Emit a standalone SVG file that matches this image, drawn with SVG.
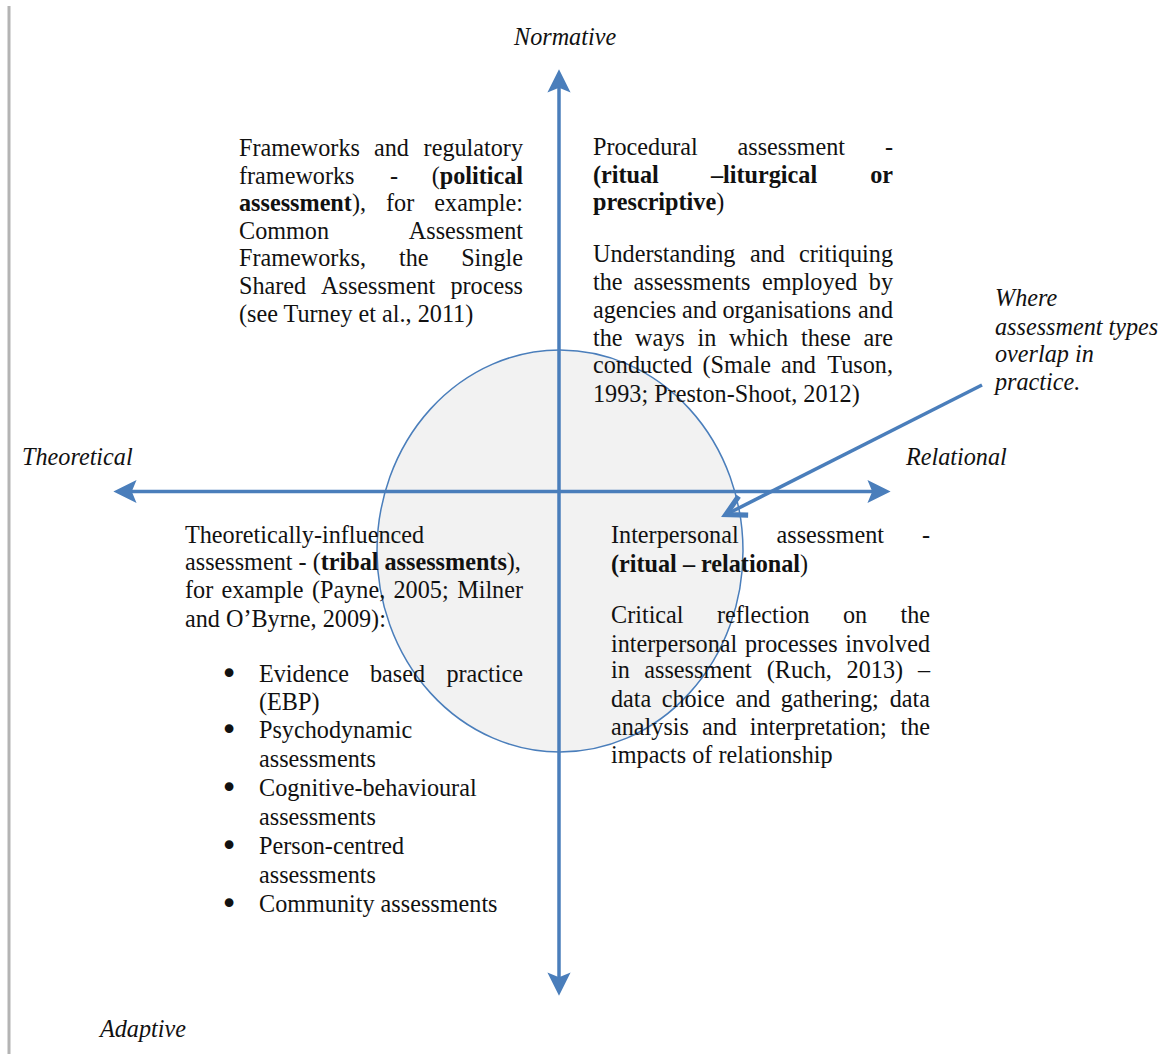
<svg xmlns="http://www.w3.org/2000/svg" width="1163" height="1054" viewBox="0 0 1163 1054">
<defs>
<style>
text{font-family:"Liberation Serif","Times New Roman",serif;font-size:24.2px;fill:#111}
.b{font-weight:bold}
.lab{font-style:italic}
.e{text-anchor:end}
.bul{font-family:"DejaVu Sans",sans-serif;font-size:30px;text-anchor:middle}
.axis{stroke:#4a7ebb;stroke-width:3.5;fill:none}
</style>
<marker id="ah" markerUnits="userSpaceOnUse" markerWidth="30" markerHeight="30" viewBox="-10 -10 22 20" refX="0" refY="0" orient="auto-start-reverse">
<path d="M10,0 L-7,-8.5 L-3.5,0 L-7,8.5 Z" fill="#4a7ebb"/>
</marker>
<marker id="oh" markerUnits="userSpaceOnUse" markerWidth="30" markerHeight="30" viewBox="-16 -10 20 20" refX="0" refY="0" orient="auto">
<path d="M-13,-7 L0,0 L-13,7" fill="none" stroke="#4a7ebb" stroke-width="3.5"/>
</marker>
</defs>
<rect x="0" y="0" width="1163" height="1054" fill="#ffffff"/>
<line x1="9" y1="6" x2="9" y2="1054" stroke="#b4b4b4" stroke-width="3"/>
<g id="overlap-circle">
<ellipse cx="560" cy="551" rx="183" ry="201" fill="#f2f2f2" stroke="#4a7ebb" stroke-width="1.5"/>
</g>
<g id="connectors">
<line class="axis" x1="559" y1="982" x2="559" y2="83" marker-start="url(#ah)" marker-end="url(#ah)"/>
<line class="axis" x1="127" y1="491.5" x2="877" y2="491.5" marker-start="url(#ah)" marker-end="url(#ah)"/>
<line class="axis" x1="982" y1="385" x2="726" y2="514.5" marker-end="url(#oh)"/>
</g>
<g id="axis-labels">
<text class="lab" x="514" y="45">Normative</text>
<text class="lab" x="22" y="465">Theoretical</text>
<text class="lab" x="906" y="465">Relational</text>
<text class="lab" x="100" y="1037">Adaptive</text>
</g>
<g id="overlap-note">
<text class="lab" x="995" y="306">Where</text>
<text class="lab" x="995" y="335">assessment types</text>
<text class="lab" x="995" y="362">overlap in</text>
<text class="lab" x="995" y="390">practice.</text>
</g>
<g id="political-assessment">
<text y="156"><tspan x="239">Frameworks</tspan><tspan x="374">and</tspan><tspan x="523" class="e">regulatory</tspan></text>
<text y="183.6"><tspan x="239">frameworks</tspan><tspan x="390">-</tspan><tspan x="523" class="e">(<tspan class="b">political</tspan></tspan></text>
<text y="211.2"><tspan x="239"><tspan class="b">assessment</tspan>),</tspan><tspan x="386">for</tspan><tspan x="523" class="e">example:</tspan></text>
<text y="238.8"><tspan x="239">Common</tspan><tspan x="523" class="e">Assessment</tspan></text>
<text y="266.4"><tspan x="239">Frameworks,</tspan><tspan x="399">the</tspan><tspan x="523" class="e">Single</tspan></text>
<text y="294"><tspan x="239">Shared</tspan><tspan x="321">Assessment</tspan><tspan x="523" class="e">process</tspan></text>
<text y="321.6" x="239">(see Turney et al., 2011)</text>
</g>
<g id="procedural-assessment">
<text y="155"><tspan x="593">Procedural</tspan><tspan x="737.5">assessment</tspan><tspan x="893" class="e">-</tspan></text>
<text y="183" class="b"><tspan x="593">(ritual</tspan><tspan x="711">–liturgical</tspan><tspan x="893" class="e">or</tspan></text>
<text y="210" x="593"><tspan class="b">prescriptive</tspan>)</text>
<text y="262"><tspan x="593">Understanding</tspan><tspan x="750">and</tspan><tspan x="893" class="e">critiquing</tspan></text>
<text y="290"><tspan x="593">the</tspan><tspan x="633.5">assessments</tspan><tspan x="762">employed</tspan><tspan x="893" class="e">by</tspan></text>
<text y="318"><tspan x="593">agencies</tspan><tspan x="682">and</tspan><tspan x="722.5">organisations</tspan><tspan x="893" class="e">and</tspan></text>
<text y="346"><tspan x="593">the</tspan><tspan x="635">ways</tspan><tspan x="697.5">in</tspan><tspan x="729">which</tspan><tspan x="801">these</tspan><tspan x="893" class="e">are</tspan></text>
<text y="373"><tspan x="593">conducted</tspan><tspan x="702.5">(Smale</tspan><tspan x="781">and</tspan><tspan x="893" class="e">Tuson,</tspan></text>
<text y="402" x="593">1993; Preston-Shoot, 2012)</text>
</g>
<g id="tribal-assessment">
<text y="543" x="185">Theoretically-influenced</text>
<text y="570" x="185">assessment - (<tspan class="b">tribal assessments</tspan>),</text>
<text y="598"><tspan x="185">for</tspan><tspan x="221.5">example</tspan><tspan x="312">(Payne,</tspan><tspan x="393.5">2005;</tspan><tspan x="523" class="e">Milner</tspan></text>
<text y="627" x="185">and O’Byrne, 2009):</text>
<text class="bul" x="229" y="684">•</text>
<text y="682"><tspan x="259">Evidence</tspan><tspan x="370">based</tspan><tspan x="523" class="e">practice</tspan></text>
<text y="710" x="259">(EBP)</text>
<text class="bul" x="229" y="740">•</text>
<text y="738" x="259">Psychodynamic</text>
<text y="767" x="259">assessments</text>
<text class="bul" x="229" y="798">•</text>
<text y="796" x="259">Cognitive-behavioural</text>
<text y="825" x="259">assessments</text>
<text class="bul" x="229" y="856">•</text>
<text y="854" x="259">Person-centred</text>
<text y="883" x="259">assessments</text>
<text class="bul" x="229" y="914">•</text>
<text y="912" x="259">Community assessments</text>
</g>
<g id="interpersonal-assessment">
<text y="543"><tspan x="611">Interpersonal</tspan><tspan x="776.5">assessment</tspan><tspan x="930" class="e">-</tspan></text>
<text y="572" x="611"><tspan class="b">(ritual – relational</tspan>)</text>
<text y="623"><tspan x="611">Critical</tspan><tspan x="717">reflection</tspan><tspan x="843">on</tspan><tspan x="930" class="e">the</tspan></text>
<text y="652"><tspan x="611">interpersonal</tspan><tspan x="745">processes</tspan><tspan x="930" class="e">involved</tspan></text>
<text y="678"><tspan x="611">in</tspan><tspan x="644.3">assessment</tspan><tspan x="766.7">(Ruch,</tspan><tspan x="846.6">2013)</tspan><tspan x="930" class="e">–</tspan></text>
<text y="707"><tspan x="611">data</tspan><tspan x="661.7">choice</tspan><tspan x="735.4">and</tspan><tspan x="780.7">gathering;</tspan><tspan x="930" class="e">data</tspan></text>
<text y="735"><tspan x="611">analysis</tspan><tspan x="702">and</tspan><tspan x="749.8">interpretation;</tspan><tspan x="930" class="e">the</tspan></text>
<text y="763" x="611">impacts of relationship</text>
</g>
</svg>
